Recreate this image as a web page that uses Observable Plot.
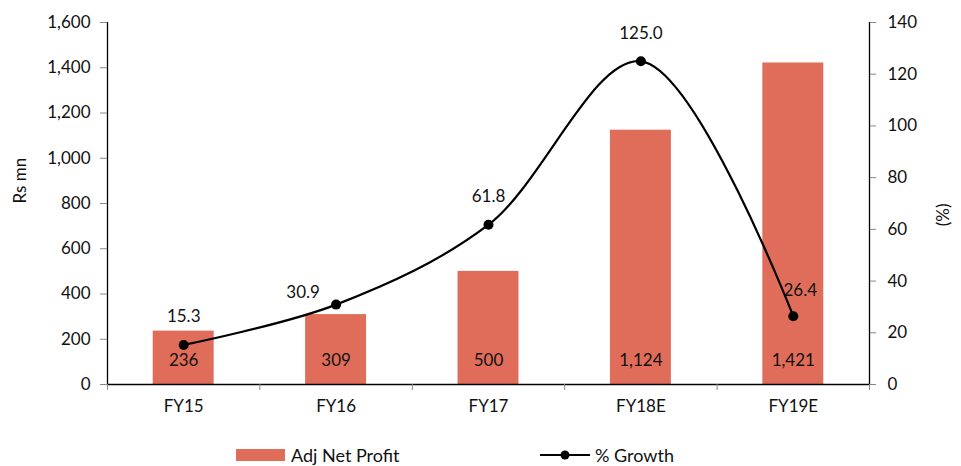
<!DOCTYPE html>
<html>
<head>
<meta charset="utf-8">
<script src="https://cdn.jsdelivr.net/npm/d3@7"></script>
<script src="https://cdn.jsdelivr.net/npm/@observablehq/plot@0.6"></script>
<style>
  html, body { margin: 0; padding: 0; background: #fff; }
  #wrap { position: relative; width: 961px; height: 466px; font-family: Lato, "Open Sans", sans-serif; color: #111; }
  #legend { position: absolute; left: 0; top: 442px; width: 961px; height: 24px; font-size: 18px; }
  .lg { position: absolute; top: 2px; display: flex; align-items: center; }
</style>
</head>
<body>
<div id="wrap">
  <div id="chart"></div>
  <div id="legend">
    <div class="lg" style="left:236px">
      <svg width="49" height="12"><rect x="0" y="0" width="49" height="12" fill="#e06c5a"></rect></svg>
      <span style="margin-left:6px">Adj Net Profit</span>
    </div>
    <div class="lg" style="left:540px">
      <svg width="50" height="12"><line x1="0" x2="50" y1="6" y2="6" stroke="#000" stroke-width="2"></line><circle cx="25" cy="6" r="4.5" fill="#000"></circle></svg>
      <span style="margin-left:5px">% Growth</span>
    </div>
  </div>
</div>
<script>
const categories = ["FY15", "FY16", "FY17", "FY18E", "FY19E"];
const profit = [236, 309, 500, 1124, 1421];
const growth = [15.3, 30.9, 61.8, 125.0, 26.4];
const leftTicks = [0, 200, 400, 600, 800, 1000, 1200, 1400, 1600];
const rightTicks = [0, 20, 40, 60, 80, 100, 120, 140];

const leftMax = 1600, rightMax = 140;
const k = leftMax / rightMax;

const data = categories.map((c, i) => ({
  cat: c, i, profit: profit[i], growth: growth[i], gScaled: growth[i] * k
}));

const fmt = d3.format(",");
const font = "Lato, 'Open Sans', sans-serif";

const chart = Plot.plot({
  width: 961,
  height: 440,
  marginTop: 22,
  marginBottom: 56,
  marginLeft: 107,
  marginRight: 92,
  style: { fontFamily: font, fontSize: "17px", color: "#111", background: "#fff" },
  x: { domain: [0, categories.length], axis: null },
  y: { domain: [0, leftMax], axis: null },
  marks: [
    Plot.rectY(data, { x1: d => d.i + 0.3, x2: d => d.i + 0.7, y1: 0, y2: "profit", fill: "#e06c5a" }),
    Plot.ruleX([0], { y1: 0, y2: leftMax, stroke: "#000", strokeWidth: 1.3 }),
    Plot.ruleX([categories.length], { y1: 0, y2: leftMax, stroke: "#000", strokeWidth: 1.3 }),
    Plot.ruleY([0], { stroke: "#000", strokeWidth: 1.3 }),
    Plot.axisY(leftTicks, { anchor: "left", tickSize: 7, tickPadding: 10, tickFormat: fmt, stroke: "#888", fontSize: 17, label: null }),
    Plot.axisY(rightTicks.map(v => v * k), { anchor: "right", tickSize: 6, tickPadding: 12, tickFormat: d => Math.round(d / k), stroke: "#888", fontSize: 17, label: null }),
    Plot.axisX(d3.range(0, categories.length + 1), { tickSize: 6, tickFormat: () => "", stroke: "#888", label: null }),
    Plot.axisX(categories.map((c, i) => i + 0.5), { tickSize: 0, tickPadding: 15, tickFormat: (d) => categories[Math.floor(d)], fontSize: 17, label: null }),
    Plot.text(data, { x: d => d.i + 0.5, y: 0, text: d => fmt(d.profit), dy: -24, fontSize: 17, fill: "#111" }),
    Plot.line(data, { x: d => d.i + 0.5, y: "gScaled", curve: "catmull-rom", stroke: "#000", strokeWidth: 2.2 }),
    Plot.dot(data, { x: d => d.i + 0.5, y: "gScaled", r: 5, fill: "#000" }),
    Plot.text(data.filter(d => d.cat !== "FY16" && d.cat !== "FY19E"), { x: d => d.i + 0.5, y: "gScaled", text: d => d.growth.toFixed(1), dy: -28, fontSize: 17, fill: "#111" }),
    Plot.text(data.filter(d => d.cat === "FY16"), { x: d => d.i + 0.5, y: "gScaled", text: d => d.growth.toFixed(1), dx: -33, dy: -12, fontSize: 17, fill: "#111" }),
    Plot.text(data.filter(d => d.cat === "FY19E"), { x: d => d.i + 0.5, y: "gScaled", text: d => d.growth.toFixed(1), dx: 7, dy: -26, fontSize: 17, fill: "#111" }),
    Plot.text(["Rs mn"], { frameAnchor: "left", dx: -87, rotate: -90, fontSize: 17, fill: "#111" }),
    Plot.text(["(%)"], { frameAnchor: "right", dx: 74, rotate: -90, fontSize: 17, fill: "#111" })
  ]
});
document.getElementById("chart").appendChild(chart);
</script>
</body>
</html>
